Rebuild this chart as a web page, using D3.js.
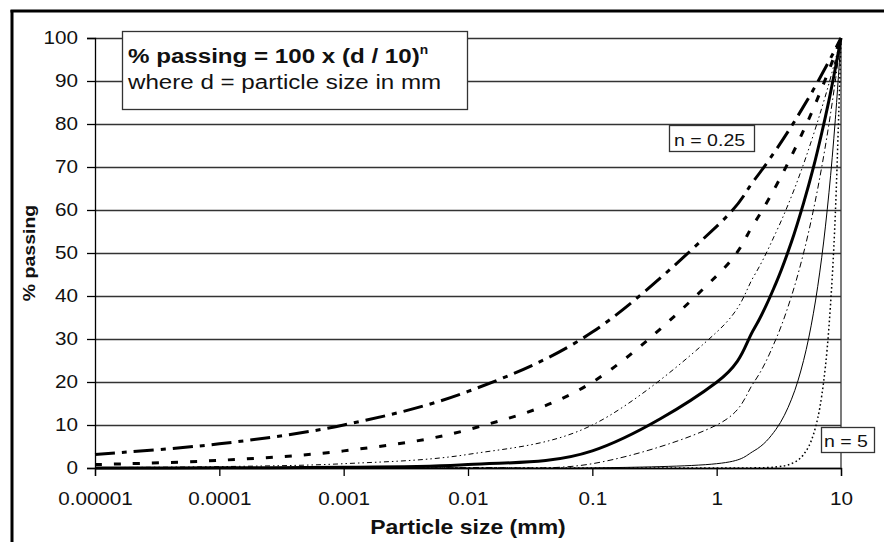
<!DOCTYPE html>
<html>
<head>
<meta charset="utf-8">
<script src="https://cdn.jsdelivr.net/npm/d3@7/dist/d3.min.js"></script>
<style>
  html, body { margin: 0; padding: 0; background: #fff; }
  svg { display: block; }
  text { font-family: "Liberation Sans", Arial, Helvetica, sans-serif; fill: #111; }
</style>
</head>
<body>
<svg id="chart" width="884" height="542"></svg>
<script>
// ---- data ----
const sizes = [0.00001, 0.0001, 0.001, 0.01, 0.1, 1, 2, 3, 4, 5, 6, 7, 8, 9, 10];
const passN025 = [3.16, 5.62, 10.0, 17.8, 31.6, 56.2, 66.9, 74.0, 79.5, 84.1, 88.0, 91.5, 94.6, 97.4, 100];
const passN035 = [0.79, 1.78, 3.98, 8.91, 19.95, 44.7, 56.9, 65.6, 72.6, 78.5, 83.6, 88.3, 92.5, 96.4, 100];
const passN05  = [0.10, 0.32, 1.0, 3.16, 10.0, 31.6, 44.7, 54.8, 63.2, 70.7, 77.5, 83.7, 89.4, 94.9, 100];
const passN07  = [0.006, 0.03, 0.16, 0.79, 3.98, 19.95, 32.4, 43.0, 52.6, 61.6, 69.9, 77.9, 85.5, 92.9, 100];
const passN1   = [0.0001, 0.001, 0.01, 0.1, 1.0, 10, 20, 30, 40, 50, 60, 70, 80, 90, 100];
const passN2   = [0, 0, 0, 0, 0.01, 1, 4, 9, 16, 25, 36, 49, 64, 81, 100];
const passN5   = [0, 0, 0, 0, 0, 0.001, 0.03, 0.24, 1.02, 3.13, 7.78, 16.8, 32.8, 59.0, 100];
const seriesNames = ["n025", "n035", "n05", "n07", "n1", "n2", "n5"];
const seriesValues = [passN025, passN035, passN05, passN07, passN1, passN2, passN5];
const xTickValues = [0.00001, 0.0001, 0.001, 0.01, 0.1, 1, 10];
const xTickLabels = ["0.00001", "0.0001", "0.001", "0.01", "0.1", "1", "10"];
const yTickValues = [0, 10, 20, 30, 40, 50, 60, 70, 80, 90, 100];
const yTickLabels = ["0", "10", "20", "30", "40", "50", "60", "70", "80", "90", "100"];
const curveLabels = ["n = 0.25", "n = 5"];

// ---- styles ----
const lineStyles = {
  n025: { w: 3,   dash: "20,7,5,7" },
  n035: { w: 3,   dash: "7,12" },
  n05:  { w: 1,   dash: "5,3,1.5,3,1.5,3" },
  n07:  { w: 3,   dash: null },
  n1:   { w: 1,   dash: "6,3,1.5,3" },
  n2:   { w: 1,   dash: null },
  n5:   { w: 1.5, dash: "1.6,2.6" }
};
const SX = 1.15; // horizontal text stretch of the reference

const svg = d3.select("#chart");
const L = 95, R = 841, T = 38, B = 468;
const x = d3.scaleLog().domain([0.00001, 10]).range([L, R]);
const y = d3.scaleLinear().domain([0, 100]).range([B, T]);

// outer frame (left + top visible)
svg.append("line").attr("x1", 12).attr("x2", 12).attr("y1", 10).attr("y2", 542)
  .attr("stroke", "#000").attr("stroke-width", 3);
svg.append("line").attr("x1", 10.5).attr("x2", 884).attr("y1", 11).attr("y2", 11)
  .attr("stroke", "#000").attr("stroke-width", 3);

// gridlines
const grid = svg.append("g").attr("transform", `translate(${L},0)`)
  .call(d3.axisLeft(y).tickValues(yTickValues).tickSize(-(R - L)).tickFormat(""));
grid.select(".domain").remove();
grid.selectAll("line").attr("stroke", "#333").attr("stroke-width", 1.3);

// y axis
const yAxis = svg.append("g").attr("transform", `translate(${L},0)`)
  .call(d3.axisLeft(y).tickValues(yTickValues).tickSize(8).tickPadding(9)
    .tickFormat((d, i) => yTickLabels[i]));
yAxis.select(".domain").attr("stroke", "#000").attr("stroke-width", 1.3);
yAxis.selectAll(".tick line").attr("stroke", "#000").attr("stroke-width", 1.3);
yAxis.selectAll(".tick text").attr("font-size", 18).attr("fill", "#111")
  .attr("font-family", "Liberation Sans, Arial, sans-serif")
  .each(function() {
    const t = d3.select(this);
    const xx = +t.attr("x");
    t.attr("x", null).attr("transform", `translate(${xx},0) scale(${SX},1)`);
  });

// x axis
const xAxis = svg.append("g").attr("transform", `translate(0,${B})`)
  .call(d3.axisBottom(x).tickValues(xTickValues).tickSize(8).tickPadding(16)
    .tickFormat((d, i) => xTickLabels[i]));
xAxis.select(".domain").attr("stroke", "#000").attr("stroke-width", 1.3);
xAxis.selectAll(".tick line").attr("stroke", "#000").attr("stroke-width", 1.3);
xAxis.selectAll(".tick text").attr("font-size", 18).attr("fill", "#111")
  .attr("font-family", "Liberation Sans, Arial, sans-serif")
  .each(function() {
    const t = d3.select(this);
    const yy = +t.attr("y");
    t.attr("y", null).attr("dy", "0.71em").attr("transform", `translate(0,${yy}) scale(${SX},1)`);
  });

// right border of plot
svg.append("line").attr("x1", R).attr("x2", R).attr("y1", T).attr("y2", B)
  .attr("stroke", "#333").attr("stroke-width", 1.3);

// curves
const line = d3.line()
  .x(d => x(d[0]))
  .y(d => y(d[1]))
  .curve(d3.curveCardinal.tension(0));
const curveG = svg.append("g");
seriesNames.forEach((name, si) => {
  const pts = sizes.map((s, i) => [s, seriesValues[si][i]]);
  const st = lineStyles[name];
  curveG.append("path").datum(pts)
    .attr("d", line)
    .attr("fill", "none")
    .attr("stroke", "#000")
    .attr("stroke-width", st.w)
    .attr("stroke-dasharray", st.dash)
    .attr("stroke-linejoin", "round");
});

// formula box
const box = svg.append("g");
box.append("rect").attr("x", 122.5).attr("y", 31.5).attr("width", 345).attr("height", 78)
  .attr("fill", "#fff").attr("stroke", "#333").attr("stroke-width", 1.3);
const t1 = box.append("text").attr("transform", `translate(128,63) scale(${SX},1)`)
  .attr("font-size", 21).attr("font-weight", "bold");
t1.append("tspan").text("% passing = 100 x (d / 10)");
t1.append("tspan").attr("dy", -9).attr("font-size", 12).text("n");
box.append("text").attr("transform", `translate(128,89) scale(${SX},1)`)
  .attr("font-size", 21).text("where d = particle size in mm");

// curve labels
const lab1 = svg.append("g");
lab1.append("rect").attr("x", 669.5).attr("y", 125.5).attr("width", 85).attr("height", 26)
  .attr("fill", "#fff").attr("stroke", "#333").attr("stroke-width", 1.3);
lab1.append("text").attr("transform", `translate(674,146) scale(${SX},1)`)
  .attr("font-size", 17).text(curveLabels[0]);
const lab2 = svg.append("g");
lab2.append("rect").attr("x", 821.5).attr("y", 427.5).attr("width", 53).attr("height", 25)
  .attr("fill", "#fff").attr("stroke", "#333").attr("stroke-width", 1.3);
lab2.append("text").attr("transform", `translate(824,447) scale(${SX},1)`)
  .attr("font-size", 17).text(curveLabels[1]);

// axis titles
svg.append("text").attr("transform", `translate(468,534) scale(${SX},1)`)
  .attr("text-anchor", "middle").attr("font-size", 20).attr("font-weight", "bold")
  .text("Particle size (mm)");
svg.append("text").attr("transform", `translate(35,253) rotate(-90) scale(${SX},1)`)
  .attr("text-anchor", "middle").attr("font-size", 17).attr("font-weight", "bold")
  .text("% passing");
</script>
</body>
</html>
